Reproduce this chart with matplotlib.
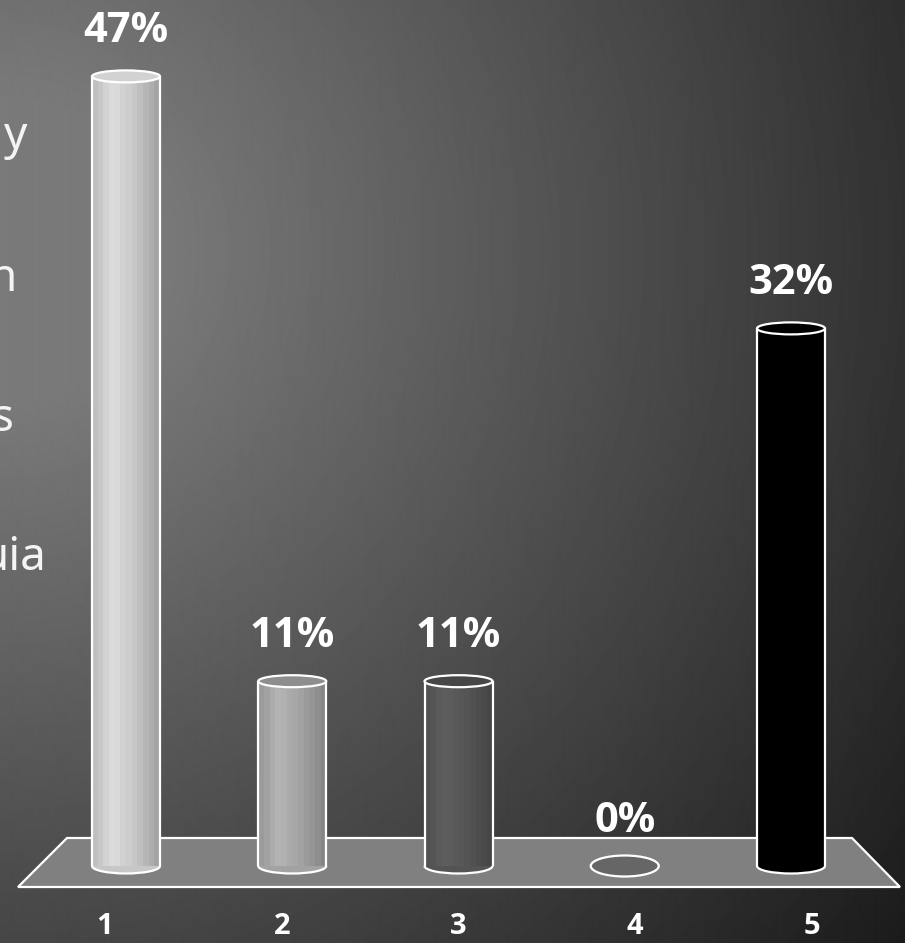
import numpy as np
import matplotlib.pyplot as plt
from matplotlib.patches import Ellipse, Arc, Polygon
from matplotlib.colors import to_rgb

# survey answers (share of responses, %)
categories = ['1', '2', '3', '4', '5']
shares = [47, 11, 11, 0, 32]
share_labels = ['47%', '11%', '11%', '0%', '32%']
bar_colors = ['#cdcdcd', '#a7a7a7', '#575757', '#666666', '#000000']
cap_colors = ['#d2d2d2', '#8e8e8e', '#474747', '#666666', '#000000']
side_words = ['y', 'n', 's', 'uia']

W, H = 905, 943
PX_CAT = 166.25      # pixels between columns
PX_PCT = 16.8        # pixels per percent
X_FIRST = 126        # pixel x of column 1
BASE = 866           # pixel y of 0 %


def dx(px):
    return px / PX_CAT


def dy(px):
    return px / PX_PCT


def cx(px):
    return 1 + (px - X_FIRST) / PX_CAT


def cy(py):
    return (BASE - py) / PX_PCT


def shade(color, f):
    r, g, b = to_rgb(color)
    return (min(r * f, 1), min(g * f, 1), min(b * f, 1))


fig = plt.figure(figsize=(W / 100, H / 100), dpi=100)

# dark radial backdrop
bg = fig.add_axes([0, 0, 1, 1])
bg.set_axis_off()
yy, xx = np.mgrid[0:H, 0:W]
dist = np.hypot(xx, yy - 250)
tone = np.clip(122 - 0.096 * (dist - 150), 25, 122) / 255
bg.imshow(tone, cmap='gray', vmin=0, vmax=1, extent=(0, W, H, 0),
          aspect='auto', interpolation='bilinear')
bg.set_xlim(0, W)
bg.set_ylim(H, 0)

# clipped words from the slide text on the left
word_pos = [(27, 149), (16, 291), (14, 431), (46, 570)]
for word, (px, py) in zip(side_words, word_pos):
    fig.text(px / W, 1 - py / H, word, ha='right', va='baseline',
             fontsize=33, fontweight='normal', color='#f4f4f4',
             family='Noto Sans')

ax = fig.add_axes([0, 0, 1, 1])
ax.patch.set_alpha(0)
ax.set_axis_off()
ax.set_xlim(cx(0), cx(W))
ax.set_ylim(cy(H), cy(0))

# floor plate
floor = Polygon([(cx(67), cy(838)), (cx(852), cy(838)),
                 (cx(900), cy(887)), (cx(18), cy(887))], closed=True,
                facecolor='#808080', edgecolor='white', linewidth=1.6, zorder=1)
ax.add_patch(floor)

width = dx(68)
cap_h = dy(12)
foot_h = dy(15)
profile = [0.93, 0.97, 1.03, 1.07, 1.06, 1.02, 1.0, 0.97, 0.93, 0.89, 0.85, 0.8]
n = len(profile)

for i, (val, lab) in enumerate(zip(shares, share_labels)):
    x = i + 1
    col = bar_colors[i]
    if val > 0:
        # rounded foot
        ax.add_patch(Ellipse((x, 0), width, foot_h, facecolor=shade(col, 0.97),
                             edgecolor='none', zorder=2.9))
        ax.add_patch(Arc((x, 0), width, foot_h, theta1=180, theta2=360,
                         color='white', linewidth=1.6, zorder=4))
        # shaded cylinder body
        for k, f in enumerate(profile):
            ax.bar(x - width / 2 + (k + 0.5) * width / n, val, width=width / n,
                   color=shade(col, f), linewidth=0, zorder=3)
        ax.vlines([x - width / 2, x + width / 2], 0, val, colors='white',
                  linewidth=1.6, zorder=4)
        ax.add_patch(Ellipse((x, val), width, cap_h, facecolor=cap_colors[i],
                             edgecolor='white', linewidth=1.6, zorder=4))
    else:
        ax.add_patch(Ellipse((x, val), width, dy(21), facecolor=col,
                             edgecolor='white', linewidth=1.6, zorder=4))
    ax.text(x, val + dy(45), lab, ha='center', va='center', fontsize=30,
            fontweight='bold', color='white', family='Open Sans', zorder=5)

# category labels along the front edge
for i, cat in enumerate(categories):
    xl = 3 + (i + 1 - 3) * 1.063
    ax.text(xl, cy(926), cat, ha='center', va='center', fontsize=21,
            fontweight='bold', color='white', family='Open Sans', zorder=5)

fig.savefig('out.png', dpi=100)
